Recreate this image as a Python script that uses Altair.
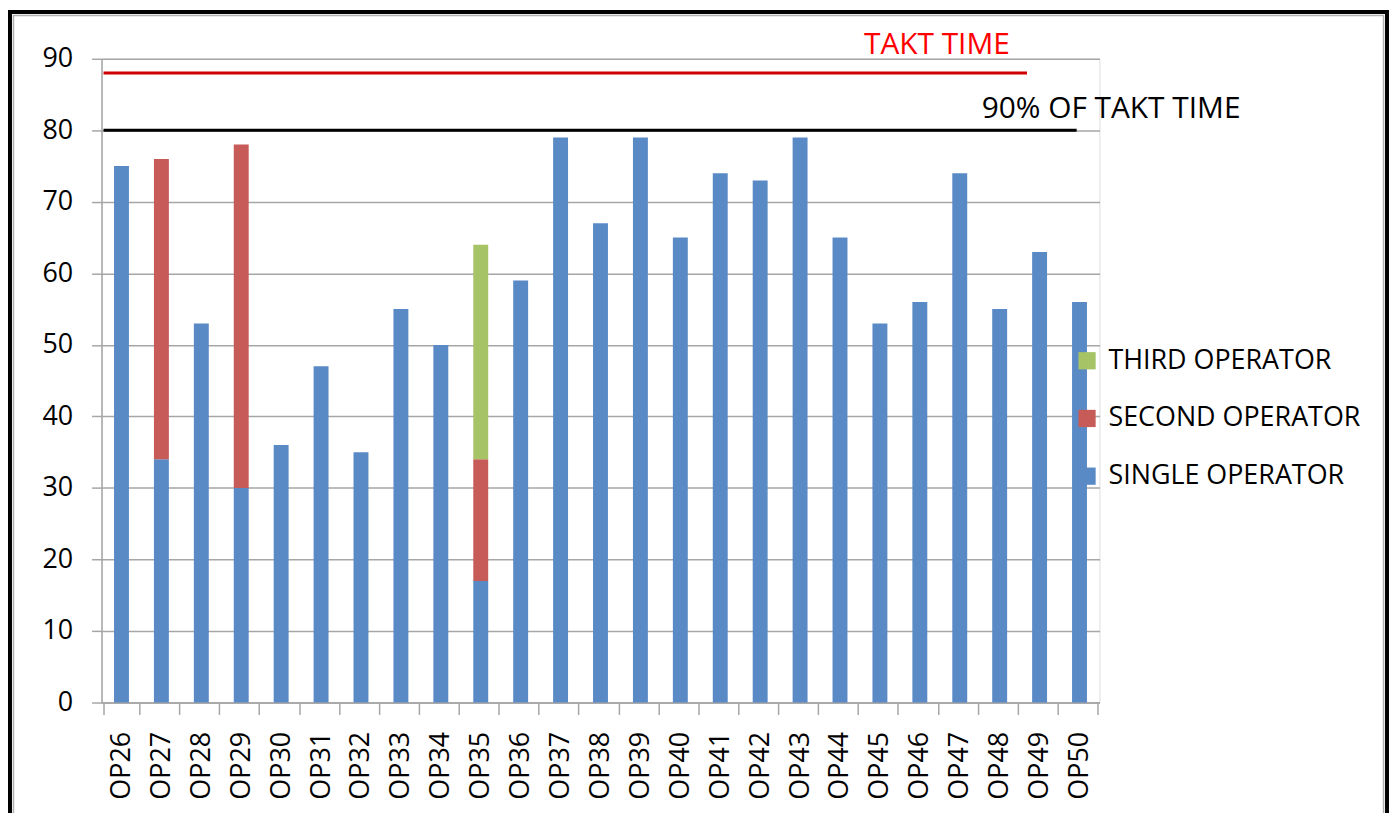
import altair as alt
import pandas as pd

ops = ["OP26", "OP27", "OP28", "OP29", "OP30", "OP31", "OP32", "OP33", "OP34", "OP35",
       "OP36", "OP37", "OP38", "OP39", "OP40", "OP41", "OP42", "OP43", "OP44", "OP45",
       "OP46", "OP47", "OP48", "OP49", "OP50"]
single = [75, 34, 53, 30, 36, 47, 35, 55, 50, 17, 59, 79, 67, 79, 65, 74, 73, 79, 65, 53, 56, 74, 55, 63, 56]
second = [0, 42, 0, 48, 0, 0, 0, 0, 0, 17, 0, 0, 0, 0, 0, 0, 0, 0, 0, 0, 0, 0, 0, 0, 0]
third = [0, 0, 0, 0, 0, 0, 0, 0, 0, 30, 0, 0, 0, 0, 0, 0, 0, 0, 0, 0, 0, 0, 0, 0, 0]
series_names = ["SINGLE OPERATOR", "SECOND OPERATOR", "THIRD OPERATOR"]
legend_order = ["THIRD OPERATOR", "SECOND OPERATOR", "SINGLE OPERATOR"]
legend_colors = ["#a6c366", "#c75b57", "#5a8ac6"]

takt_value = [88]
takt_label = ["TAKT TIME"]
takt90_value = [80]
takt90_label = ["90% OF TAKT TIME"]

rows = []
for k, vals in enumerate([single, second, third]):
    for op, v in zip(ops, vals):
        if v > 0:
            rows.append({"op": op, "series": series_names[k], "ord": k, "value": v})
df = pd.DataFrame(rows)

FONT = "Open Sans"

bars = alt.Chart(df).mark_bar(size=15).encode(
    x=alt.X("op:N", sort=ops, scale=alt.Scale(domain=ops), title=None,
            axis=alt.Axis(labelAngle=-90, tickBand="extent", tickSize=12, labelPadding=17,
                          labelFontSize=27, labelColor="#000000", labelFont=FONT,
                          domainColor="#a6a6a6", tickColor="#a6a6a6", domainWidth=1.5,
                          tickWidth=1.5, grid=False)),
    y=alt.Y("value:Q", stack="zero", scale=alt.Scale(domain=[0, 90], nice=False), title=None,
            axis=alt.Axis(values=list(range(0, 91, 10)), tickSize=10, labelPadding=19,
                          labelFontSize=27, labelColor="#000000", labelFont=FONT,
                          domainColor="#a6a6a6", tickColor="#a6a6a6", gridColor="#a6a6a6",
                          gridWidth=1.5, domainWidth=1.5, tickWidth=1.5)),
    color=alt.Color("series:N", scale=alt.Scale(domain=legend_order, range=legend_colors),
                    legend=alt.Legend(title=None, orient="none", legendX=977, legendY=290,
                                      symbolType="square", symbolSize=300, symbolStrokeWidth=0,
                                      labelFontSize=27, labelFont=FONT, labelColor="#000000",
                                      labelOffset=8, rowPadding=30, padding=0,
                                      labelLimit=400)),
    order=alt.Order("ord:Q", sort="ascending"),
)

takt_df = pd.DataFrame({"start": ["OP26"], "end": ["OP49"], "value": takt_value,
                        "label": takt_label, "text_at": ["OP45"]})
t90_df = pd.DataFrame({"start": ["OP26"], "end": ["OP50"], "value": takt90_value,
                       "label": takt90_label, "text_at": ["OP48"]})

red_rule = alt.Chart(takt_df).mark_rule(color="#d00000", strokeWidth=3).encode(
    x=alt.X("start:N", bandPosition=0, title=None),
    x2=alt.X2("end:N", bandPosition=0.15),
    y=alt.Y("value:Q", title=None),
)
black_rule = alt.Chart(t90_df).mark_rule(color="#000000", strokeWidth=3).encode(
    x=alt.X("start:N", bandPosition=0, title=None),
    x2=alt.X2("end:N", bandPosition=0.42),
    y=alt.Y("value:Q", title=None),
)
red_text = alt.Chart(takt_df).mark_text(align="left", baseline="alphabetic", dx=2, dy=-19,
                                        fontSize=30, font=FONT, color="#ff0000").encode(
    x=alt.X("text_at:N", bandPosition=0, title=None),
    y=alt.Y("value:Q", title=None),
    text="label:N",
)
black_text = alt.Chart(t90_df).mark_text(align="left", baseline="alphabetic", dx=0, dy=-12,
                                         fontSize=30, font=FONT, color="#000000").encode(
    x=alt.X("text_at:N", bandPosition=0, title=None),
    y=alt.Y("value:Q", title=None),
    text="label:N",
)

frame_row = pd.DataFrame({"a": [0]})
frame = alt.Chart(frame_row).mark_rect(
    fillOpacity=0, stroke="#000000", strokeWidth=4).encode(
    x=alt.value(-92), x2=alt.value(1292), y=alt.value(-47), y2=alt.value(800))
frame_inner = alt.Chart(frame_row).mark_rect(
    fillOpacity=0, stroke="#b0b0b0", strokeWidth=1.5).encode(
    x=alt.value(-88.5), x2=alt.value(1288.5), y=alt.value(-43.5), y2=alt.value(800))

chart = alt.layer(frame, frame_inner, bars, red_rule, black_rule, red_text, black_text).properties(
    width=1003, height=647,
    autosize=alt.AutoSizeParams(type="none"),
    padding={"left": 94, "top": 49, "right": 291, "bottom": 109},
).configure_view(stroke="transparent").configure(font=FONT)

chart.save("out.html", embed_options={"renderer": "svg", "actions": False})
